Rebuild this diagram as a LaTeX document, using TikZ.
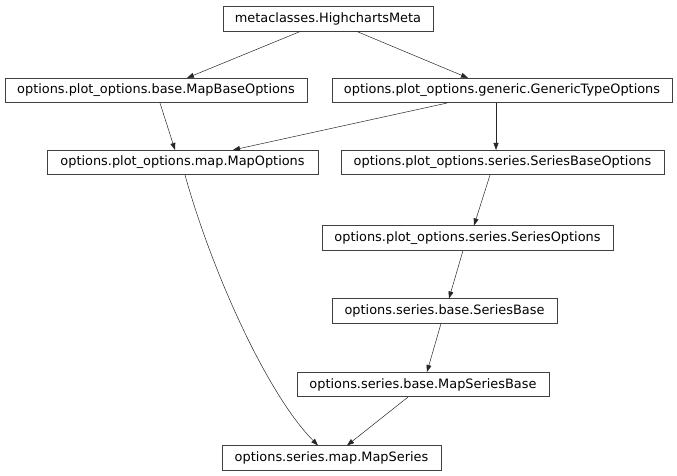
\documentclass[tikz,border=0pt]{standalone}
\usepackage{fontspec}
\setmainfont{DejaVu Sans}
\usetikzlibrary{arrows.meta}
\begin{document}
\begin{tikzpicture}[x=1pt,y=-1pt,
  cls/.style={draw=black!75, line width=0.6pt, minimum height=24.5pt, inner sep=0pt, font=\fontsize{12.9pt}{14pt}\selectfont},
  edge/.style={draw=black!85, line width=0.5pt, -{Triangle[length=7pt,width=5pt]}}]
\useasboundingbox (0,0) rectangle (677,476);
\node[cls, minimum width=210pt] (meta) at (328,19) {metaclasses.HighchartsMeta};
\node[cls, minimum width=302pt] (mbo) at (156,90.5) {options.plot\_options.base.MapBaseOptions};
\node[cls, minimum width=340pt] (gto) at (502,90.5) {options.plot\_options.generic.GenericTypeOptions};
\node[cls, minimum width=271pt] (mo) at (182.5,162.5) {options.plot\_options.map.MapOptions};
\node[cls, minimum width=323pt] (sbo) at (502.5,162.5) {options.plot\_options.series.SeriesBaseOptions};
\node[cls, minimum width=291pt] (so) at (467.5,238) {options.plot\_options.series.SeriesOptions};
\node[cls, minimum width=225pt] (sb) at (444.5,311) {options.series.base.SeriesBase};
\node[cls, minimum width=252pt] (msb) at (423,384.5) {options.series.base.MapSeriesBase};
\node[cls, minimum width=219pt] (ms) at (331.5,458) {options.series.map.MapSeries};
\draw[edge] ([xshift=-28pt]meta.south) -- ([xshift=31pt]mbo.north);
\draw[edge] ([xshift=29pt]meta.south) -- ([xshift=-34pt]gto.north);
\draw[edge] ([xshift=4pt]mbo.south) -- ([xshift=-7.5pt]mo.north);
\draw[edge] ([xshift=-55pt]gto.south) -- ([xshift=50.5pt]mo.north);
\draw[edge] ([xshift=-6pt]gto.south) -- ([xshift=-6.5pt]sbo.north);
\draw[edge] ([xshift=-12.5pt]sbo.south) -- ([xshift=6.5pt]so.north);
\draw[edge] ([xshift=-4.5pt]so.south) -- ([xshift=4.5pt]sb.north);
\draw[edge] ([xshift=-3.5pt]sb.south) -- ([xshift=4pt]msb.north);
\draw[edge] ([xshift=-15pt]msb.south) -- ([xshift=15.5pt]ms.north);
\draw[edge] ([xshift=2.5pt]mo.south) .. controls (213,275) and (268,395) .. ([xshift=-13.5pt]ms.north);
\end{tikzpicture}
\end{document}
